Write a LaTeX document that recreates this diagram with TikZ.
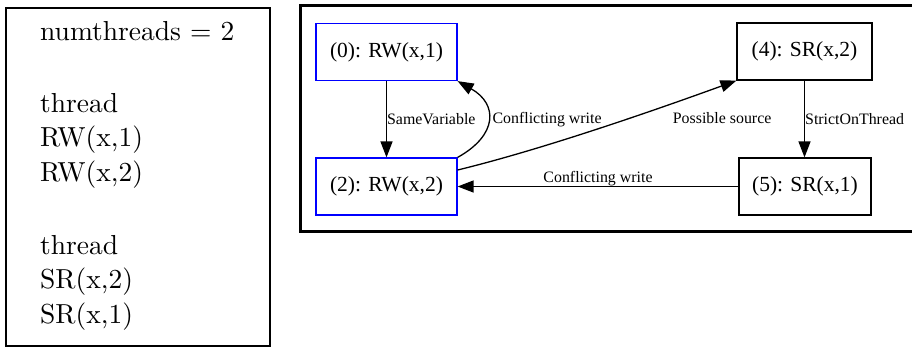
\documentclass[tikz,border=0pt]{standalone}
\usepackage{graphicx}
\usepackage{fontspec}
\newfontfamily\graphfont{Liberation Serif}
\usetikzlibrary{arrows.meta}

\tikzset{
  state/.style={draw=black, rectangle, line width=1.2pt, inner sep=0pt,
    font=\graphfont\fontsize{21.5}{24}\selectfont},
  rwstate/.style={state, draw=blue},
  elabel/.style={inner sep=0pt, font=\graphfont\fontsize{15.9}{18}\selectfont},
  arr/.style={line width=1.3pt, -{Triangle[length=16pt,width=12pt]}},
  progline/.style={anchor=base west, inner sep=0pt,
    font=\fontsize{10}{12}\selectfont}
}
\newcommand{\bigprog}[1]{\scalebox{2.75}{#1}}

\begin{document}
\begin{tikzpicture}[x=1pt,y=-1pt]
        \useasboundingbox (0,0) rectangle (912,349);

        % program text
        \draw[line width=2pt] (6,8) rectangle (270,346);
        \node[progline] (nt) at (40,40) {\bigprog{numthreads $=$ 2}};
        \node[progline] (t1) at (40,112) {\bigprog{thread}};
        \node[progline] (t1a) at (40,146) {\bigprog{RW(x,1)}};
        \node[progline] (t1b) at (40,181) {\bigprog{RW(x,2)}};
        \node[progline] (t2) at (40,254) {\bigprog{thread}};
        \node[progline] (t2a) at (40,288.5) {\bigprog{SR(x,2)}};
        \node[progline] (t2b) at (40,323.5) {\bigprog{SR(x,1)}};

        % graph
        \draw[line width=3pt] (300,5) rectangle (920,231);
        \node[rwstate, minimum width=141pt, minimum height=57pt] (n0) at (386.5,52) {(0): RW(x,1)};
        \node[rwstate, minimum width=141pt, minimum height=57pt] (n2) at (386.5,186.5) {(2): RW(x,2)};
        \node[state, minimum width=135pt, minimum height=57pt] (n4) at (804.5,51.5) {(4): SR(x,2)};
        \node[state, minimum width=132pt, minimum height=57pt] (n5) at (805,186.5) {(5): SR(x,1)};

        \draw[arr] (n0) -- (n2) node[elabel, midway, right] {SameVariable};
        \draw[arr] (n2.north east) .. controls (498,135) and (498,104) .. (n0.south east)
          node[elabel, pos=.5, right, xshift=4pt] {Conflicting write};
        \draw[arr] ([yshift=16.5pt]n2.east) .. controls (540,150) and (650,112) .. (n4.south west)
          node[elabel, pos=.8, xshift=40pt, yshift=-18pt] {Possible source};
        \draw[arr] (n4.south) -- (n4.south |- n5.north) node[elabel, midway, right] {StrictOnThread};
        \draw[arr] (n5) -- (n2) node[elabel, midway, above] {Conflicting write};
\end{tikzpicture}
\end{document}
